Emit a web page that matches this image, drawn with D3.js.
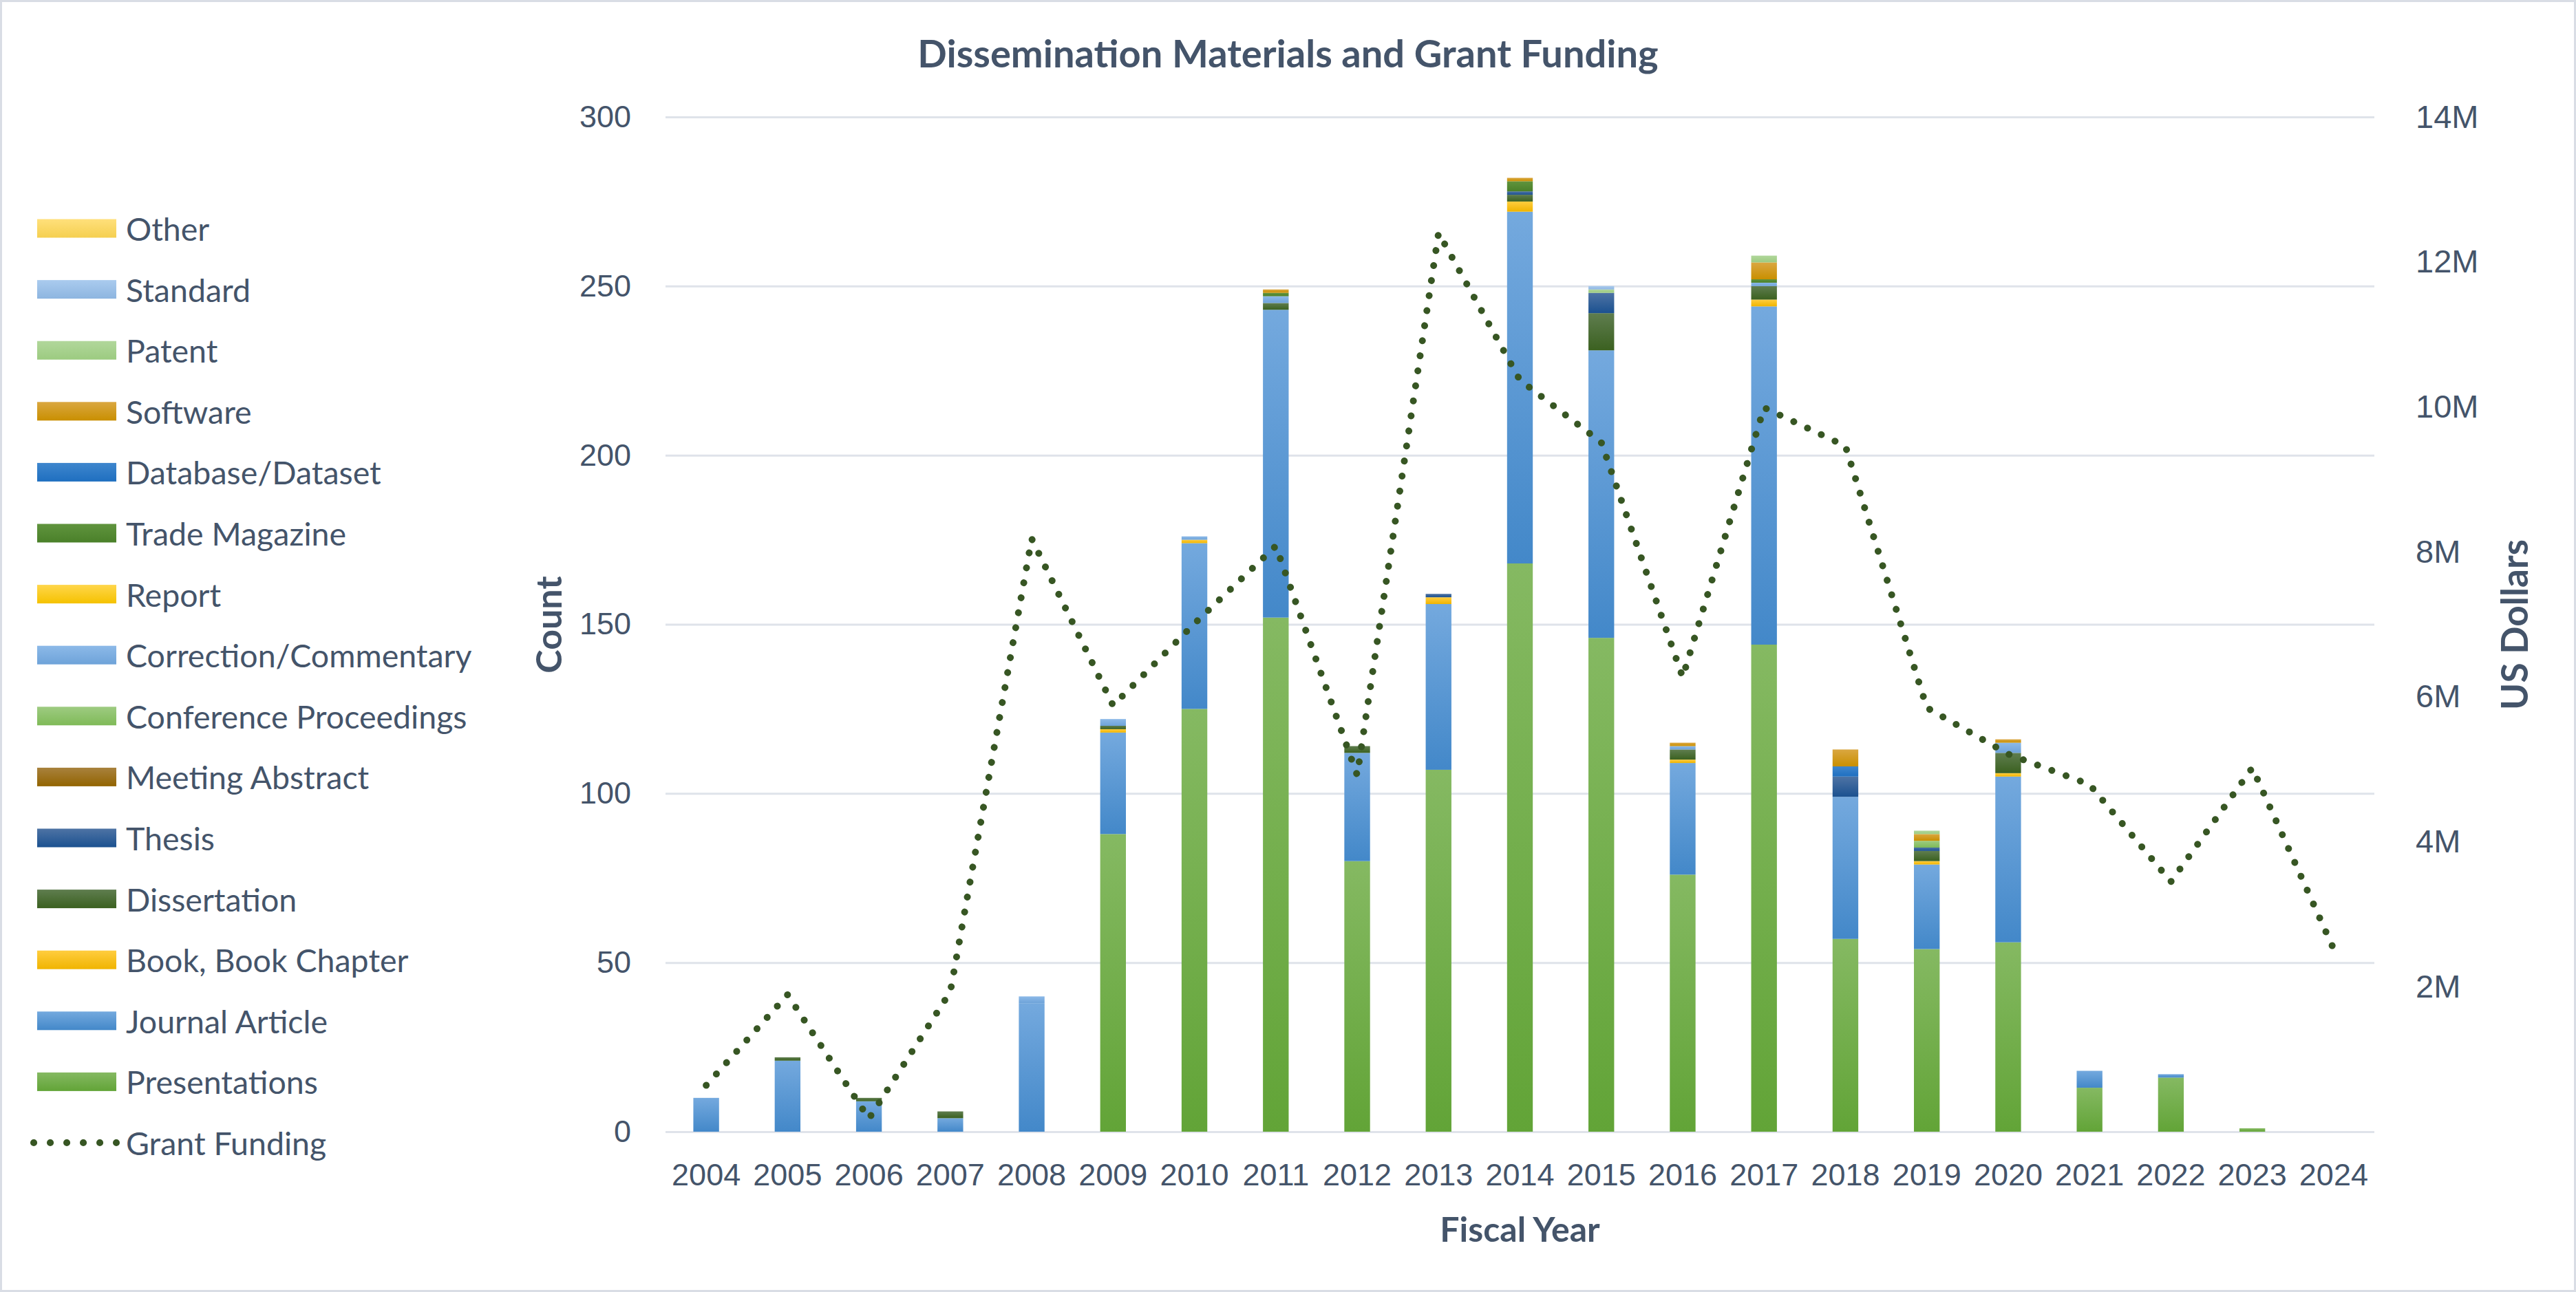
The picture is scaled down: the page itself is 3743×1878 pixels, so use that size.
<!DOCTYPE html>
<html>
<head>
<meta charset="utf-8">
<script src="https://cdn.jsdelivr.net/npm/d3@7"></script>
<style>
  body { margin: 0; background: #fff; }
  svg { display: block; font-family: Lato, "Open Sans", sans-serif; }
</style>
</head>
<body>
<svg id="chart"></svg>
<script>
// fiscal years on the x axis
const years = ["2004","2005","2006","2007","2008","2009","2010","2011","2012","2013","2014",
               "2015","2016","2017","2018","2019","2020","2021","2022","2023","2024"];

// counts per material type, one value per year
const presentations   = [0,0,0,0,0,88,125,152,80,107,168,146,76,144,57,54,56,13,16,1,0];
const journalArticle  = [10,21,9,4,38,30,49,91,32,49,104,85,33,100,42,25,49,5,1,0,0];
const bookChapter     = [0,0,0,0,0,1,1,0,0,2,3,0,1,2,0,1,1,0,0,0,0];
const dissertation    = [0,1,1,2,0,1,0,2,2,0,2,11,3,4,0,3,6,0,0,0,0];
const thesis          = [0,0,0,0,0,0,0,0,0,1,1,6,0,0,6,1,0,0,0,0,0];
const meetingAbstract = [0,0,0,0,0,0,0,0,0,0,0,0,0,0,0,0,0,0,0,0,0];
const confProceedings = [0,0,0,0,0,0,0,0,0,0,0,0,0,0,0,2,0,0,0,0,0];
const correction      = [0,0,0,0,2,2,1,2,0,0,0,0,1,1,0,0,3,0,0,0,0];
const report          = [0,0,0,0,0,0,0,0,0,0,0,0,0,0,0,0,0,0,0,0,0];
const tradeMagazine   = [0,0,0,0,0,0,0,1,0,0,3,0,0,1,0,0,0,0,0,0,0];
const database        = [0,0,0,0,0,0,0,0,0,0,0,0,0,0,3,0,0,0,0,0,0];
const software        = [0,0,0,0,0,0,0,1,0,0,1,0,1,5,5,2,1,0,0,0,0];
const patent          = [0,0,0,0,0,0,0,0,0,0,0,1,0,2,0,1,0,0,0,0,0];
const standard        = [0,0,0,0,0,0,0,0,0,0,0,1,0,0,0,0,0,0,0,0,0];
const other           = [0,0,0,0,0,0,0,0,0,0,0,0,0,0,0,0,0,0,0,0,0];

// grant funding in US dollars
const grantFunding = [0.64e6,1.89e6,0.18e6,1.93e6,8.18e6,5.88e6,7.01e6,8.08e6,4.92e6,12.40e6,10.37e6,
                      9.51e6,6.27e6,9.99e6,9.46e6,5.85e6,5.21e6,4.79e6,3.45e6,5.02e6,2.52e6];

const countTicks  = [0,50,100,150,200,250,300];
const dollarTicks = [2e6,4e6,6e6,8e6,10e6,12e6,14e6];

// stacking order, bottom first
const seriesNames = ["Presentations","Journal Article","Book, Book Chapter","Dissertation","Thesis",
  "Meeting Abstract","Conference Proceedings","Correction/Commentary","Report","Trade Magazine",
  "Database/Dataset","Software","Patent","Standard","Other"];
const seriesValues = [presentations,journalArticle,bookChapter,dissertation,thesis,meetingAbstract,
  confProceedings,correction,report,tradeMagazine,database,software,patent,standard,other];
// gradient [top, bottom] for each series
const seriesColors = [
  ["#85b962","#62a437"],["#74a9de","#4388c9"],["#ffcd3f","#f0b400"],["#5f7d4f","#3b6120"],
  ["#4e73a4","#1b5190"],["#a8813d","#926400"],["#9ecb81","#7fba58"],["#8cb9e8","#6ea3d9"],
  ["#ffd64b","#f5c200"],["#60943e","#4a8029"],["#3e86cd","#1f6fc0"],["#daa741","#c98f00"],
  ["#b1d79b","#9ccb80"],["#aacbee","#8db5e0"],["#ffe07b","#f5cf50"]];

const W = 3743, H = 1878;
const m = {left: 967, right: 3450, top: 170, bottom: 1645};
const textColor = "#44546a";
const gridColor = "#dfe3ea";

const svg = d3.select("#chart").attr("width", W).attr("height", H);

svg.append("rect")
  .attr("x", 1.5).attr("y", 1.5).attr("width", W - 3).attr("height", H - 3)
  .attr("fill", "#fff").attr("stroke", "#d9dde5").attr("stroke-width", 3);

const defs = svg.append("defs");
seriesColors.forEach((c, i) => {
  const g = defs.append("linearGradient").attr("id", "grad" + i)
    .attr("x1", 0).attr("y1", 0).attr("x2", 0).attr("y2", 1);
  g.append("stop").attr("offset", "0%").attr("stop-color", c[0]);
  g.append("stop").attr("offset", "100%").attr("stop-color", c[1]);
});

const table = years.map((yr, i) => {
  const row = {year: yr};
  seriesNames.forEach((s, k) => { row[s] = seriesValues[k][i]; });
  return row;
});

const x = d3.scaleBand().domain(years).range([m.left, m.right]).padding(0);
const barW = x.bandwidth() * 0.316;

const yCount = d3.scaleLinear().domain([0, 300]).range([m.bottom, m.top]);
const yUsd = d3.scaleLinear().domain([0, 14e6]).range([m.bottom, m.top]);

// left axis with gridlines
const leftAxis = svg.append("g")
  .attr("transform", `translate(${m.left},0)`)
  .call(d3.axisLeft(yCount).tickValues(countTicks).tickSize(-(m.right - m.left)).tickPadding(50));
leftAxis.select(".domain").remove();
leftAxis.selectAll(".tick line").attr("stroke", gridColor).attr("stroke-width", 3);
leftAxis.selectAll(".tick text").attr("fill", textColor).style("font-size", "45px");

// right axis
const rightAxis = svg.append("g")
  .attr("transform", `translate(${m.right},0)`)
  .call(d3.axisRight(yUsd).tickValues(dollarTicks).tickSize(0).tickPadding(60)
    .tickFormat(d => (d / 1e6) + "M"));
rightAxis.select(".domain").remove();
rightAxis.selectAll(".tick text").attr("fill", textColor).style("font-size", "47px");

// bottom axis
const bottomAxis = svg.append("g")
  .attr("transform", `translate(0,${m.bottom})`)
  .call(d3.axisBottom(x).tickSize(0).tickPadding(46));
bottomAxis.select(".domain").remove();
bottomAxis.selectAll(".tick text").attr("fill", textColor).style("font-size", "45px");

// stacked bars
const stacked = d3.stack().keys(seriesNames)(table);
svg.append("g").selectAll("g")
  .data(stacked)
  .join("g")
    .attr("fill", (d, i) => `url(#grad${i})`)
  .selectAll("rect")
  .data(d => d.filter(p => p[1] - p[0] > 0))
  .join("rect")
    .attr("x", p => x(p.data.year) + (x.bandwidth() - barW) / 2)
    .attr("y", p => yCount(p[1]))
    .attr("width", barW)
    .attr("height", p => yCount(p[0]) - yCount(p[1]));

// grant funding line
const line = d3.line()
  .x((d, i) => x(years[i]) + x.bandwidth() / 2)
  .y(d => yUsd(d));
svg.append("path")
  .datum(grantFunding)
  .attr("d", line)
  .attr("fill", "none")
  .attr("stroke", "#375623")
  .attr("stroke-width", 10)
  .attr("stroke-linecap", "round")
  .attr("stroke-dasharray", "0.1 22");

// titles
svg.append("text")
  .attr("x", W / 2).attr("y", 76)
  .attr("text-anchor", "middle").attr("dominant-baseline", "central")
  .attr("fill", textColor).style("font-size", "56px").style("font-weight", "bold")
  .text("Dissemination Materials and Grant Funding");

svg.append("text")
  .attr("transform", "translate(796,908) rotate(-90)")
  .attr("text-anchor", "middle").attr("dominant-baseline", "central")
  .attr("fill", textColor).style("font-size", "52px").style("font-weight", "bold")
  .text("Count");

svg.append("text")
  .attr("transform", "translate(3652,908) rotate(-90)")
  .attr("text-anchor", "middle").attr("dominant-baseline", "central")
  .attr("fill", textColor).style("font-size", "53px").style("font-weight", "bold")
  .text("US Dollars");

svg.append("text")
  .attr("x", (m.left + m.right) / 2).attr("y", 1786)
  .attr("text-anchor", "middle").attr("dominant-baseline", "central")
  .attr("fill", textColor).style("font-size", "50px").style("font-weight", "bold")
  .text("Fiscal Year");

// legend, top entry is the last series
const legendItems = seriesNames.map((s, i) => ({name: s, idx: i})).reverse();
legendItems.push({name: "Grant Funding", idx: -1});
const legend = svg.append("g");
const rowY = i => 332 + i * 88.6;
legendItems.forEach((it, i) => {
  const g = legend.append("g").attr("transform", `translate(0,${rowY(i)})`);
  if (it.idx >= 0) {
    g.append("rect").attr("x", 54).attr("y", -13.5).attr("width", 115).attr("height", 27)
      .attr("fill", `url(#grad${it.idx})`);
  } else {
    g.append("line").attr("x1", 49).attr("x2", 169).attr("y1", 0).attr("y2", 0)
      .attr("stroke", "#375623").attr("stroke-width", 10)
      .attr("stroke-linecap", "round").attr("stroke-dasharray", "0.1 23.9");
  }
  g.append("text").attr("x", 183).attr("y", 0)
    .attr("dominant-baseline", "central")
    .attr("fill", textColor).style("font-size", "46.5px")
    .text(it.name);
});
</script>
</body>
</html>
